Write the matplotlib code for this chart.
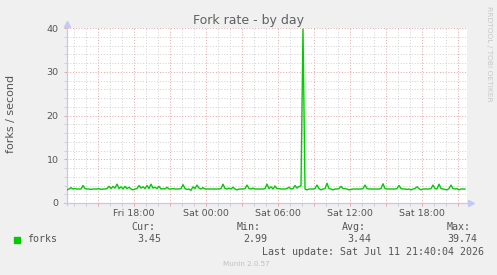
import matplotlib
matplotlib.use('Agg')
import matplotlib.pyplot as plt
import matplotlib.dates as mdates
from matplotlib.patches import Rectangle
import pandas as pd

# fork rate, one value per 10 minutes from Fri 12:25
forks = [
    3.0, 3.2, 3.5, 3.2, 3.3, 3.2, 3.2, 3.2, 4.0, 3.3, 3.2, 3.2, 3.1, 3.2, 3.2, 3.2, 3.3, 3.1, 3.2, 3.2,
    3.3, 3.8, 3.3, 3.8, 3.4, 4.3, 3.3, 3.7, 3.2, 3.8, 3.3, 3.6, 3.2, 3.0, 3.2, 3.3, 4.0, 3.4, 3.7, 3.3,
    4.0, 3.3, 4.3, 3.4, 3.6, 3.3, 3.8, 3.2, 3.3, 3.2, 3.6, 3.2, 3.2, 3.3, 3.2, 3.2, 3.2, 3.3, 4.2, 3.3,
    3.1, 3.2, 2.9, 3.7, 3.3, 4.1, 3.4, 3.2, 3.5, 3.2, 3.2, 3.2, 3.2, 3.2, 3.2, 3.2, 3.2, 3.3, 4.3, 3.3,
    3.2, 3.4, 3.2, 3.6, 3.2, 3.0, 3.2, 3.2, 3.2, 3.3, 4.1, 3.3, 3.2, 3.4, 3.2, 3.2, 3.2, 3.2, 3.2, 3.3,
    4.3, 3.3, 3.7, 3.2, 3.9, 3.3, 3.3, 3.2, 3.2, 3.2, 3.3, 3.6, 3.2, 3.3, 4.0, 3.4, 3.8, 3.9, 39.74, 3.2,
    3.0, 3.2, 3.2, 3.2, 3.3, 4.1, 3.3, 3.0, 3.2, 3.3, 4.5, 3.3, 3.2, 3.0, 3.2, 3.2, 3.3, 3.8, 3.3, 3.3,
    3.2, 3.0, 3.1, 3.2, 3.2, 3.2, 3.2, 3.2, 3.3, 4.1, 3.3, 3.2, 3.2, 3.2, 3.2, 3.2, 3.2, 3.3, 4.4, 3.3,
    3.2, 3.2, 3.2, 3.2, 3.2, 3.3, 4.0, 3.3, 3.2, 3.2, 3.1, 3.2, 3.0, 3.2, 3.3, 3.7, 3.3, 3.0, 3.2, 3.2,
    3.2, 3.2, 3.3, 4.1, 3.3, 3.2, 4.3, 3.3, 3.2, 3.1, 3.0, 3.3, 4.1, 3.3, 3.2, 3.3, 3.0, 3.2, 3.2, 3.2,
]
times = pd.date_range('2026-07-10 12:25', periods=len(forks), freq='10min')

x_start = pd.Timestamp('2026-07-10 12:25')
x_end = pd.Timestamp('2026-07-11 21:45')
grid_times = pd.date_range('2026-07-10 15:00', '2026-07-11 21:00', freq='3h')
grid_labels = ['', 'Fri 18:00', '', 'Sat 00:00', '', 'Sat 06:00', '',
               'Sat 12:00', '', 'Sat 18:00', '']
y_major = [0, 10, 20, 30, 40]

legend_heads = ['Cur:', 'Min:', 'Avg:', 'Max:']
legend_vals = ['3.45', '2.99', '3.44', '39.74']

W, H = 497, 275
BG = '#f0f0f0'
TXT = '#555555'
AXC = '#c4c8f4'


def fx(px):
    return px / W


def fy(py):
    return 1 - py / H


fig = plt.figure(figsize=(W / 100, H / 100), dpi=100, facecolor=BG)
ax = fig.add_axes([fx(67), fy(203), 400 / W, 175 / H])
ax.set_facecolor('white')

ax.plot(times, forks, color='#00cc00', lw=1.0, zorder=3)

ax.set_xlim(x_start, x_end)
ax.set_ylim(0, 40)
ax.set_xticks(grid_times)
ax.set_xticklabels(grid_labels)
ax.xaxis.set_minor_locator(mdates.HourLocator())
ax.set_yticks(y_major)
ax.set_yticks(range(0, 41, 2), minor=True)

ax.grid(which='minor', color='#d2d2d2', lw=0.72, ls=(0, (1, 1.8)), zorder=1)
ax.grid(which='major', color='#e6a8a8', lw=0.72, ls=(0, (1, 1.8)), zorder=2)
ax.tick_params(which='minor', length=2.5, width=0.72, color='#d2d2d2')
ax.tick_params(which='major', length=2.5, width=0.72, color='#e6a8a8',
               labelsize=6.8, labelcolor=TXT)
ax.tick_params(axis='y', which='major', pad=3.5)
ax.tick_params(axis='x', which='major', pad=2)
for s in ax.spines.values():
    s.set_visible(False)

# axes with arrow heads
ax.plot([0, 0], [-0.01, 1.02], transform=ax.transAxes, color=AXC, lw=0.9, clip_on=False)
ax.plot([-0.008, 1.005], [0, 0], transform=ax.transAxes, color=AXC, lw=0.9, clip_on=False)
ax.plot([0], [1.025], transform=ax.transAxes, marker='^', ms=4.5, color=AXC, clip_on=False)
ax.plot([1.009], [0], transform=ax.transAxes, marker='>', ms=4.5, color=AXC, clip_on=False)

fig.text(fx(248.3), fy(24.3), 'Fork rate - by day', ha='center', va='baseline',
         fontsize=9, color='#606060')
fig.text(fx(11), fy(114), 'forks / second', rotation=90, ha='center', va='center',
         fontsize=8, color=TXT)
fig.text(fx(488.5), fy(53.5), 'RRDTOOL / TOBI OETIKER', rotation=270, ha='center',
         va='center', fontsize=5.4, color='#c8c8c8')

mono = dict(family='DejaVu Sans Mono', fontsize=7.2, color=TXT, va='center')
head_x = [131.7, 237, 341.7, 446.7]
val_x = [137, 243, 347.5, 447]
for hx, vx, h, v in zip(head_x, val_x, legend_heads, legend_vals):
    fig.text(fx(hx), fy(226.7), h, ha='left', **mono)
    fig.text(fx(vx), fy(239.5), v, ha='left', **mono)
fig.patches.append(Rectangle((fx(14), fy(242.7)), 6 / W, 6 / H, transform=fig.transFigure,
                             color='#00cc00'))
fig.text(fx(26.7), fy(239.5), 'forks', ha='left', **mono)
fig.text(fx(483.5), fy(252.3), 'Last update: Sat Jul 11 21:40:04 2026', ha='right', **mono)
fig.text(fx(246), fy(264), 'Munin 2.0.57', ha='center', va='center', fontsize=5.1,
         color='#c0c0c0')

fig.savefig('out.png', dpi=100, facecolor=BG)
